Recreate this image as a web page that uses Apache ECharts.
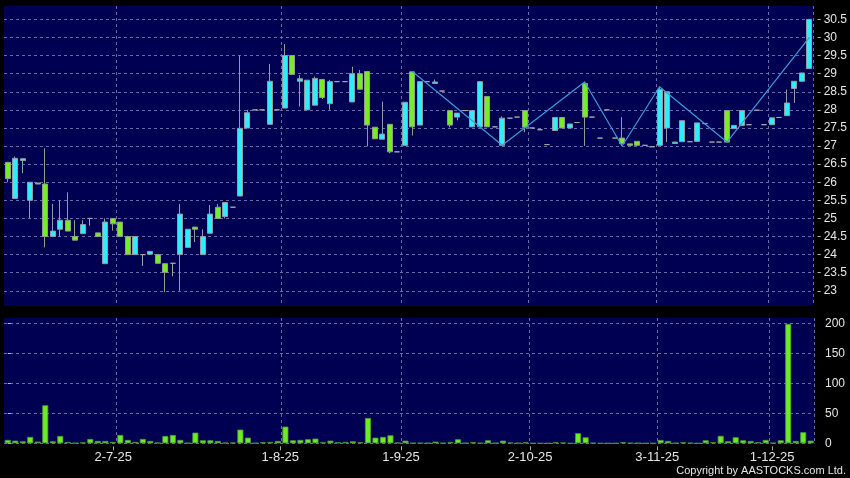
<!DOCTYPE html>
<html>
<head>
<meta charset="utf-8">
<script src="https://cdn.jsdelivr.net/npm/echarts@6/dist/echarts.min.js"></script>
<style>
html,body{margin:0;padding:0;background:#000;}
#chart{width:850px;height:478px;}
</style>
</head>
<body>
<div id="chart"></div>
<script>
// ---- data ----
var openArr = [
26.55,25.55,26.60,25.50,25.98,25.95,24.50,24.70,24.95,24.50,
24.58,25.00,24.60,23.75,25.00,24.90,24.50,24.00,24.00,24.01,
24.00,23.75,23.76,24.00,24.20,24.76,24.00,24.59,25.31,25.05,
25.31,25.62,27.50,28.00,28.00,27.60,28.00,28.05,29.50,28.79,
28.00,28.13,28.84,28.17,28.78,28.78,28.22,29.00,29.06,27.52,
27.19,27.60,26.84,27.02,29.05,27.58,28.78,28.73,28.52,27.98,
27.80,27.98,27.53,27.53,28.37,27.53,27.02,27.77,27.80,27.98,
27.50,27.45,27.04,27.43,27.79,27.50,27.65,28.73,27.80,27.22,
28.00,27.22,27.22,27.06,27.13,27.02,26.98,27.02,27.50,27.07,
27.12,27.12,27.13,27.62,27.11,27.11,27.98,27.48,27.57,27.59,
27.99,27.59,27.59,27.79,27.84,28.59,28.79,29.14];
var closeArr = [
26.10,26.66,26.65,26.00,25.95,24.50,24.65,24.95,24.65,24.40,
24.83,25.00,24.50,24.90,24.85,24.50,24.00,24.50,24.00,24.09,
23.76,23.51,23.76,25.12,24.70,24.70,24.50,25.12,25.00,25.44,
25.31,27.49,27.92,28.00,28.00,28.79,28.00,29.50,28.98,28.86,
28.82,28.87,28.34,28.78,28.78,28.78,29.00,28.57,27.58,27.20,
27.33,26.84,26.84,28.21,27.53,28.78,28.78,28.77,28.52,27.58,
27.91,27.98,27.98,28.78,27.53,27.53,27.77,27.77,27.80,27.52,
27.50,27.45,27.04,27.79,27.50,27.61,27.65,27.80,27.80,27.22,
28.00,27.22,27.07,27.02,27.02,27.02,26.98,28.56,28.50,27.11,
27.70,27.12,27.64,27.62,27.11,27.11,27.11,27.57,27.98,27.59,
27.99,27.59,27.78,27.79,28.19,28.79,29.02,30.50];
var lowArr = [
26.00,25.55,26.25,25.00,25.95,24.20,24.50,24.50,24.65,24.40,
24.58,24.80,24.50,23.75,24.66,24.50,24.00,24.00,23.69,24.01,
23.76,22.96,23.40,23.00,24.20,24.35,24.00,24.59,25.00,25.00,
25.31,25.62,27.50,28.00,28.00,27.60,28.00,28.05,28.98,28.09,
28.00,28.13,28.30,28.00,28.78,28.78,28.22,28.57,26.99,27.20,
27.19,26.80,26.84,27.02,27.29,27.58,28.78,28.73,28.52,27.52,
27.71,27.98,27.53,27.53,27.53,27.53,27.02,27.77,27.80,27.38,
27.50,27.45,27.04,27.43,27.50,27.50,27.65,27.00,27.80,27.22,
28.00,27.22,27.00,27.02,27.02,27.02,26.98,27.02,27.11,27.07,
27.12,27.12,27.13,27.62,27.11,27.11,27.11,27.48,27.57,27.59,
27.99,27.59,27.59,27.79,27.84,28.19,28.79,29.14];
var highArr = [
26.55,26.71,26.65,26.00,25.98,26.94,25.40,25.50,25.72,24.95,
24.95,25.00,24.60,25.00,25.00,24.90,24.52,24.50,24.00,24.09,
24.00,23.75,23.76,25.40,24.70,24.76,24.70,25.37,25.40,25.44,
25.31,29.50,28.00,28.00,28.00,29.27,28.00,29.82,29.50,28.96,
28.82,28.92,28.84,28.83,28.78,28.78,29.19,29.10,29.06,27.52,
28.23,27.60,26.84,28.21,29.05,28.78,28.78,28.84,28.52,27.98,
27.91,27.98,27.98,28.78,28.37,27.53,27.82,27.77,27.80,27.98,
27.50,27.45,27.04,27.79,27.79,27.61,27.65,28.78,27.80,27.22,
28.00,27.22,27.80,27.06,27.13,27.02,26.98,28.64,28.50,27.11,
27.70,27.12,27.64,27.62,27.11,27.11,27.98,27.57,27.98,27.59,
27.99,27.59,27.78,27.79,28.56,28.79,29.02,30.50];
var volumeArr = [
5.6,4.4,3.3,10.6,2.8,63.3,3.3,12.2,2.2,0.5,
1.5,7.2,3.9,3.9,2.2,13.9,5.6,2.2,7.2,3.9,
1.1,12.2,13.9,5.6,0.5,17.8,5,5,3.9,1,
1,22.8,9.4,0.5,1.7,2.2,3.9,27.8,5,5.6,
6.7,7.8,1.7,4.4,1.7,2.2,3.3,1.7,42.2,9.4,
10.6,13.3,1.1,4.4,0.5,0.5,0.5,2.8,0.5,2.2,
6.7,0.5,1.7,0.5,5,0.5,4.4,1.1,0.5,1.7,
0,0,0,1.7,1.1,0,16.9,10,0.5,0,
0,0,1.7,0.5,0.5,0,0,5.6,3.9,0.5,
1.7,0.5,0,5,1.7,12.4,3.4,10.1,5,3.9,
1.7,5.6,0.5,5,199,3.9,18.5,4.4];
// zig-zag turning points (candle index, price)
var zigIdx = [54, 66, 77, 82, 87, 96, 107];
var zigVal = [29.06, 27.02, 28.77, 27.00, 28.64, 27.11, 30.00];
// axis ticks
var priceTicks = [23,23.5,24,24.5,25,25.5,26,26.5,27,27.5,28,28.5,29,29.5,30,30.5];
var volTicks = [0,50,100,150,200];
var dateLabels = ['2-7-25','1-8-25','1-9-25','2-10-25','3-11-25','1-12-25'];
var datePos = [14.05, 36.3, 52.4, 69.6, 86.55, 101.85];   // position in candle-index units
var dateGridIdx = [15, 37, 53, 70, 87, 102];             // category boundary of vertical grid lines

var categories = openArr.map(function (_, i) { return String(i); });
var ohlc = openArr.map(function (o, i) { return [o, closeArr[i], lowArr[i], highArr[i]]; });
var zig = zigIdx.map(function (ix, k) { return [ix, zigVal[k]]; });

var BG = '#000052';
var GRIDC = '#6a6aa4';
var FONT = '"Liberation Sans", Arial, sans-serif';

var chart = echarts.init(document.getElementById('chart'), null, {renderer: 'canvas'});
function vSplit(idx) { return dateGridIdx.indexOf(idx) >= 0; }

chart.setOption({
  backgroundColor: '#000000',
  animation: false,
  grid: [
    {left: 4, right: 35.5, top: 6, height: 300, show: true, backgroundColor: BG, borderWidth: 0},
    {left: 4, right: 35.5, top: 318, height: 125.3, show: true, backgroundColor: BG, borderWidth: 0}
  ],
  xAxis: [
    {type: 'category', gridIndex: 0, data: categories, boundaryGap: true,
     axisLine: {show: false}, axisTick: {show: false}, axisLabel: {show: false},
     splitLine: {show: true, interval: function (i) { return vSplit(i); },
                 lineStyle: {color: GRIDC, type: [3, 3], width: 1}}},
    {type: 'category', gridIndex: 1, data: categories, boundaryGap: true,
     axisLine: {show: false}, axisTick: {show: false}, axisLabel: {show: false},
     splitLine: {show: true, interval: function (i) { return vSplit(i); },
                 lineStyle: {color: GRIDC, type: [3, 3], width: 1}}},
    {type: 'value', gridIndex: 1, min: -0.5, max: openArr.length - 0.5, position: 'bottom', offset: 3,
     axisLine: {show: false}, splitLine: {show: false},
     axisTick: {show: true, length: 4, customValues: datePos, lineStyle: {color: '#aaaaaa'}},
     axisLabel: {show: true, customValues: datePos, margin: 5, color: '#e6e6e6', fontSize: 13, fontFamily: FONT,
                 formatter: function (v) { var k = datePos.indexOf(v); return k >= 0 ? dateLabels[k] : ''; }}}
  ],
  yAxis: [
    {type: 'value', gridIndex: 0, position: 'right', min: 22.58, max: 30.87, offset: 4.5, scale: true,
     axisLine: {show: false},
     axisTick: {show: true, length: 3, customValues: priceTicks, lineStyle: {color: '#bbbbbb'}},
     axisLabel: {show: true, customValues: priceTicks, margin: 6, color: '#e6e6e6', fontSize: 12, fontFamily: FONT},
     splitLine: {show: true, lineStyle: {color: GRIDC, type: [3, 3], width: 1}}},
    {type: 'value', gridIndex: 1, position: 'right', min: 0, max: 208.8, offset: 4.5,
     axisLine: {show: false},
     axisTick: {show: true, length: 3, customValues: volTicks, lineStyle: {color: '#bbbbbb'}},
     axisLabel: {show: true, customValues: volTicks, margin: 6, color: '#e6e6e6', fontSize: 12, fontFamily: FONT},
     splitLine: {show: true, lineStyle: {color: GRIDC, type: [3, 3], width: 1}}}
  ],
  series: [
    {type: 'candlestick', xAxisIndex: 0, yAxisIndex: 0, data: ohlc, barWidth: 5.5,
     itemStyle: {color: '#2ceeff', color0: '#77ee22', borderColor: '#8e9ea4', borderColor0: '#8e9e8a',
                 borderColorDoji: '#a6a6a6', borderWidth: 1}},
    {type: 'line', xAxisIndex: 0, yAxisIndex: 0, data: zig, symbol: 'none', connectNulls: true,
     lineStyle: {color: '#3b9bdc', width: 1.2}, z: 5},
    {type: 'bar', xAxisIndex: 1, yAxisIndex: 1, data: volumeArr, barWidth: 6,
     itemStyle: {color: '#6aee22', borderColor: '#4f9a30', borderWidth: 0.8}}
  ],
  graphic: [
    {type: 'text', right: 4, top: 465,
     style: {text: 'Copyright by AASTOCKS.com Ltd.', fill: '#e6e6e6', font: '11px ' + FONT}}
  ]
});
</script>
</body>
</html>
